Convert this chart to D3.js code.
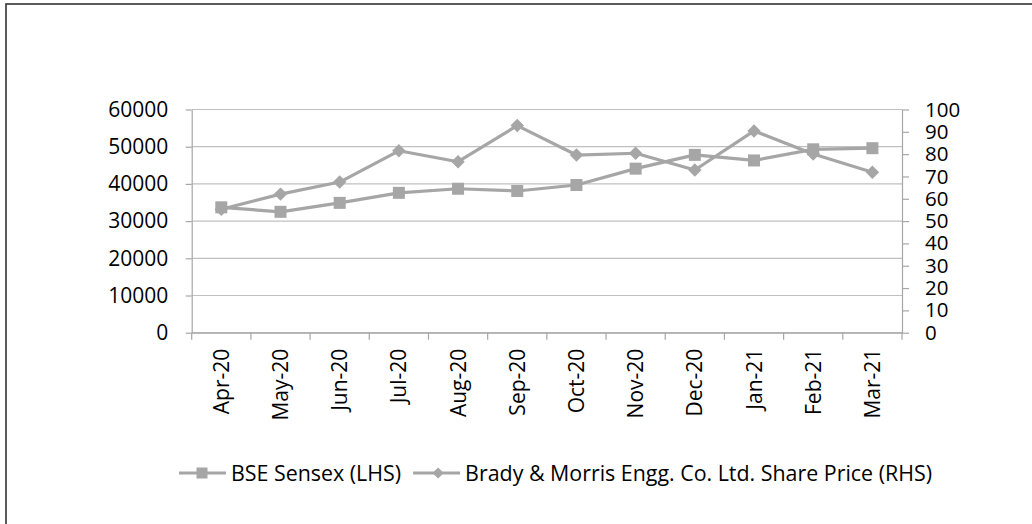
<!DOCTYPE html>
<html>
<head>
<meta charset="utf-8">
<script src="https://cdn.jsdelivr.net/npm/d3@7"></script>
<style>
  body { margin: 0; background: #fff; }
  svg text { font-family: "Open Sans", "Liberation Sans", sans-serif; fill: #000; }
</style>
</head>
<body>
<div id="chart"></div>
<script>
const width = 1032;
const height = 524;
const margin = {top: 109.5, right: 130, bottom: 191.3, left: 191.7};

const categories = ["Apr-20", "May-20", "Jun-20", "Jul-20", "Aug-20", "Sep-20",
  "Oct-20", "Nov-20", "Dec-20", "Jan-21", "Feb-21", "Mar-21"];
const sensex = [33700, 32500, 34900, 37600, 38700, 38100, 39700, 44100, 47800, 46300, 49300, 49600];
const brady = [55.3, 62.1, 67.5, 81.5, 76.6, 92.8, 79.6, 80.4, 72.9, 90.4, 80.1, 71.9];
const leftTicks = [0, 10000, 20000, 30000, 40000, 50000, 60000];
const rightTicks = [0, 10, 20, 30, 40, 50, 60, 70, 80, 90, 100];
const legendLabels = ["BSE Sensex (LHS)", "Brady & Morris Engg. Co. Ltd. Share Price (RHS)"];

const lineColor = "#a6a6a6";
const gridColor = "#c0c0c0";
const axisColor = "#a6a6a6";

const x = d3.scaleBand()
  .domain(categories)
  .range([margin.left, width - margin.right])
  .padding(0);

const y = d3.scaleLinear()
  .domain([0, 60000])
  .range([height - margin.bottom, margin.top]);

const y2 = d3.scaleLinear()
  .domain([0, 100])
  .range([height - margin.bottom, margin.top]);

const svg = d3.select("#chart")
  .append("svg")
  .attr("width", width)
  .attr("height", height)
  .attr("viewBox", [0, 0, width, height]);

// chart border
svg.append("rect")
  .attr("x", 6).attr("y", 4)
  .attr("width", width).attr("height", height)
  .attr("fill", "none")
  .attr("stroke", "#333")
  .attr("stroke-width", 1.6);

// gridlines
svg.append("g")
  .selectAll("line")
  .data(leftTicks)
  .join("line")
  .attr("x1", margin.left)
  .attr("x2", width - margin.right)
  .attr("y1", d => y(d))
  .attr("y2", d => y(d))
  .attr("stroke", gridColor)
  .attr("stroke-width", 1.2);

const styleAxis = (g, size) => {
  g.select(".domain").attr("stroke", axisColor).attr("stroke-width", 1.2);
  g.selectAll(".tick line").attr("stroke", axisColor).attr("stroke-width", 1.2);
  g.selectAll(".tick text").attr("font-size", size).attr("fill", "#000");
};

// left axis
svg.append("g")
  .attr("transform", `translate(${margin.left},0)`)
  .call(d3.axisLeft(y).tickValues(leftTicks).tickSize(6).tickSizeOuter(0).tickPadding(17.5).tickFormat(d3.format("d")))
  .call(styleAxis, 21);

// right axis
svg.append("g")
  .attr("transform", `translate(${width - margin.right},0)`)
  .call(d3.axisRight(y2).tickValues(rightTicks).tickSize(7).tickSizeOuter(0).tickPadding(16).tickFormat(d3.format("d")))
  .call(styleAxis, 20.5);

// bottom axis: labels at band centers, ticks at band edges
const xg = svg.append("g")
  .attr("transform", `translate(0,${y(0)})`)
  .call(d3.axisBottom(x).tickSize(0).tickSizeOuter(0).tickPadding(0))
  .call(styleAxis, 21);

xg.selectAll(".tick text")
  .attr("text-anchor", "end")
  .attr("transform", "translate(0,16) rotate(-90)")
  .attr("x", 0)
  .attr("y", 0)
  .attr("dy", "0.36em");

xg.selectAll(".edge")
  .data(categories.concat([null]))
  .join("line")
  .attr("class", "edge")
  .attr("x1", (d, i) => margin.left + i * x.step())
  .attr("x2", (d, i) => margin.left + i * x.step())
  .attr("y1", 0)
  .attr("y2", 7)
  .attr("stroke", axisColor)
  .attr("stroke-width", 1.2);

const cx = d => x(d) + x.bandwidth() / 2;

// Sensex line
const sensexLine = d3.line()
  .x((d, i) => cx(categories[i]))
  .y(d => y(d));

svg.append("path")
  .datum(sensex)
  .attr("fill", "none")
  .attr("stroke", lineColor)
  .attr("stroke-width", 3.2)
  .attr("stroke-linejoin", "round")
  .attr("d", sensexLine);

svg.append("g")
  .selectAll("rect")
  .data(sensex)
  .join("rect")
  .attr("x", (d, i) => cx(categories[i]) - 6)
  .attr("y", d => y(d) - 6)
  .attr("width", 12)
  .attr("height", 12)
  .attr("fill", lineColor);

// Brady line (secondary axis)
const bradyLine = d3.line()
  .x((d, i) => cx(categories[i]))
  .y(d => y2(d));

svg.append("path")
  .datum(brady)
  .attr("fill", "none")
  .attr("stroke", lineColor)
  .attr("stroke-width", 3.2)
  .attr("stroke-linejoin", "round")
  .attr("d", bradyLine);

const diamond = d3.symbol().type(d3.symbolDiamond2).size(115);

svg.append("g")
  .selectAll("path")
  .data(brady)
  .join("path")
  .attr("transform", (d, i) => `translate(${cx(categories[i])},${y2(d)})`)
  .attr("d", diamond)
  .attr("fill", lineColor);

// legend
const legendY = 473;
const legend = svg.append("g");

let lx = 179;
legendLabels.forEach((label, i) => {
  legend.append("line")
    .attr("x1", lx).attr("x2", lx + 47)
    .attr("y1", legendY).attr("y2", legendY)
    .attr("stroke", lineColor)
    .attr("stroke-width", 3.2);
  if (i === 0) {
    legend.append("rect")
      .attr("x", lx + 23 - 5.5).attr("y", legendY - 5.5)
      .attr("width", 11).attr("height", 11)
      .attr("fill", lineColor);
  } else {
    legend.append("path")
      .attr("transform", `translate(${lx + 25},${legendY})`)
      .attr("d", d3.symbol().type(d3.symbolDiamond2).size(80))
      .attr("fill", lineColor);
  }
  const t = legend.append("text")
    .attr("x", lx + 52)
    .attr("y", legendY)
    .attr("dy", "0.36em")
    .attr("font-size", 21.4)
    .text(label);
  lx = lx + 52 + t.node().getComputedTextLength() + 12;
});
</script>
</body>
</html>
